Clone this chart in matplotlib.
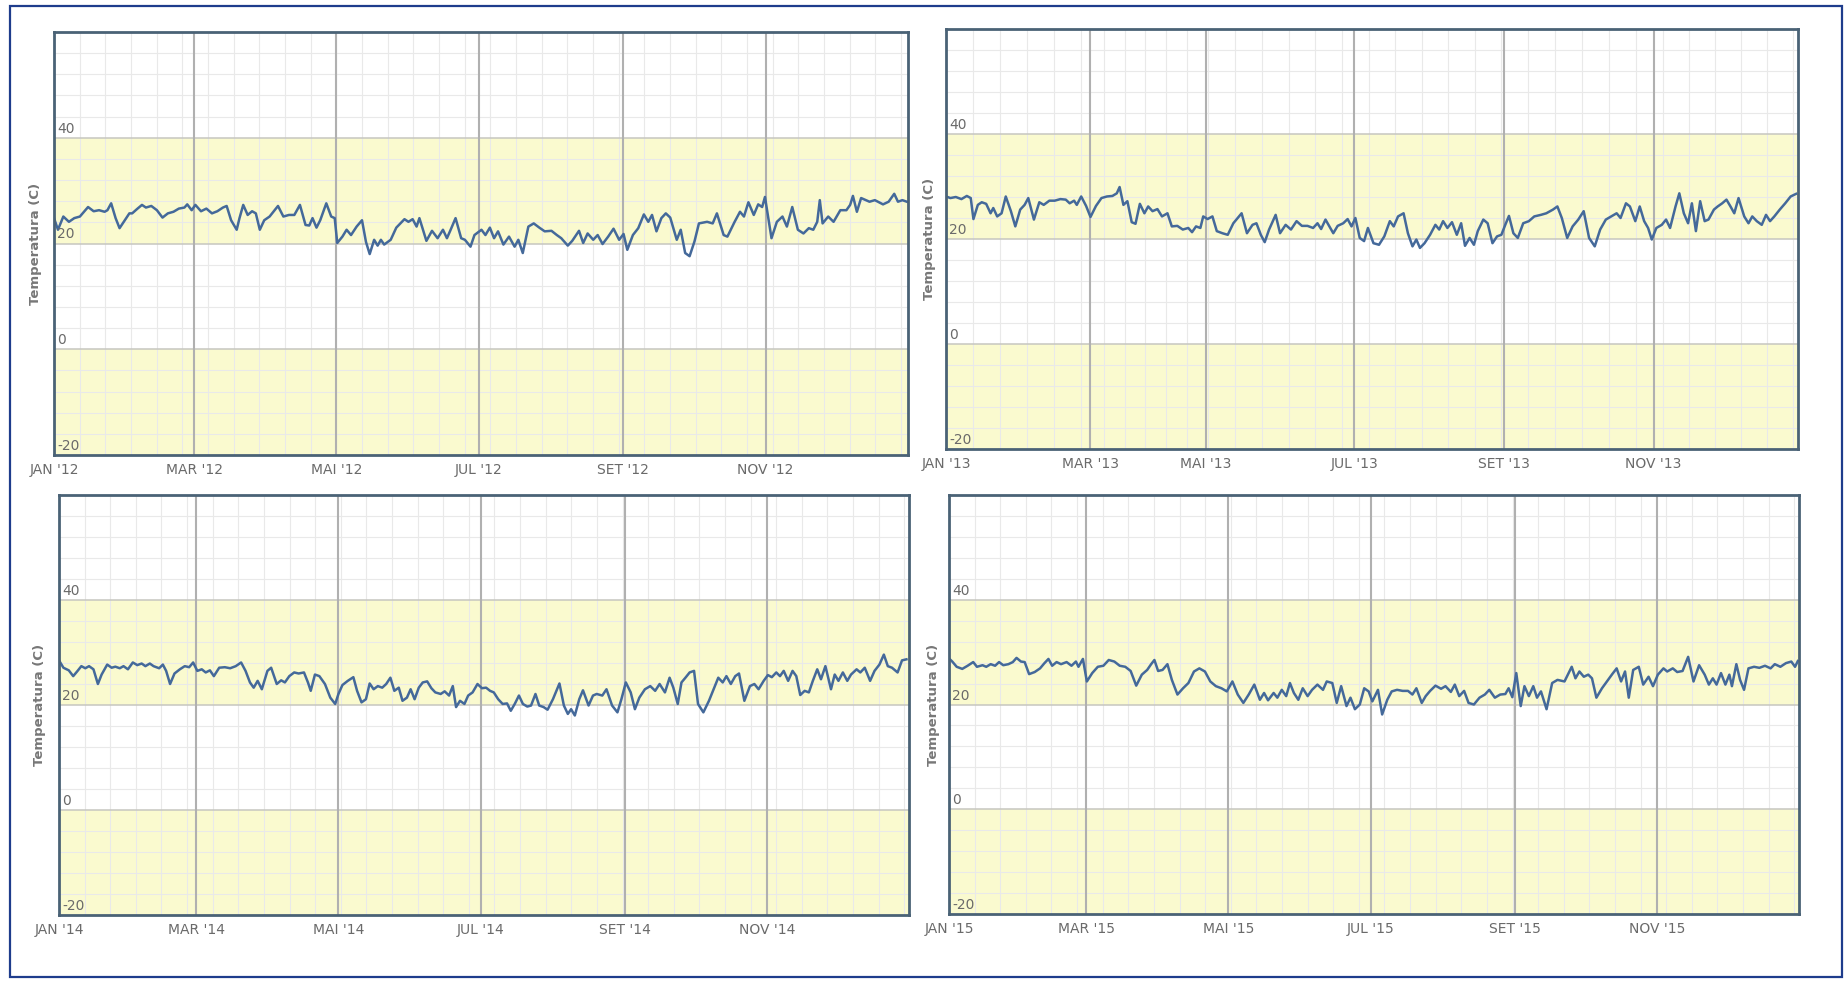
import numpy as np
import matplotlib
matplotlib.use("Agg")
import matplotlib.pyplot as plt
from matplotlib.patches import Rectangle

# ---------------- data ----------------
years = [2012, 2013, 2014, 2015]
month_labels = ["JAN", "MAR", "MAI", "JUL", "SET", "NOV"]
y_tick_values = [40, 20, 0, -20]
y_title = "Temperatura (C)"

days_2012 = [0, 1.7, 4.0, 6.4, 8.7, 11.1, 13.4, 14.6, 17.0, 19.3,
             21.7, 22.9, 24.5, 26.4, 28.1, 29.9, 32.3, 33.5, 35.8, 37.7,
             39.4, 41.7, 44.1, 46.5, 48.8, 51.2, 53.5, 55.9, 57.1, 59.0,
             60.6, 63.0, 65.3, 67.7, 70.0, 72.4, 74.0, 75.9, 78.3, 79.5,
             81.1, 83.0, 84.9, 86.5, 88.2, 90.1, 92.4, 96.0, 98.3, 100.7,
             103.0, 105.4, 107.8, 109.4, 110.8, 112.5, 114.1, 116.7, 118.8, 120.3,
             121.4, 123.6, 125.4, 127.3, 129.7, 132.0, 133.7, 135.3, 137.2, 138.7,
             140.1, 141.5, 144.3, 146.7, 147.8, 150.2, 151.9, 153.7, 155.4, 156.6,
             159.6, 162.0, 164.4, 166.7, 168.4, 169.8, 172.1, 174.5, 176.1, 178.5,
             180.2, 183.2, 184.9, 186.8, 188.6, 190.3, 192.6, 195.0, 197.4, 199.0,
             200.9, 203.3, 205.6, 208.0, 210.3, 213.2, 215.5, 217.4, 220.2, 222.1,
             225.0, 226.8, 228.7, 231.1, 233.0, 235.1, 237.5, 239.8, 242.2, 244.1,
             245.7, 248.1, 250.4, 252.8, 254.7, 256.3, 258.2, 260.3, 262.2, 264.1,
             266.9, 268.6, 270.5, 272.4, 274.5, 276.4, 279.9, 282.3, 284.1, 287.0,
             288.6, 291.7, 294.0, 295.7, 297.6, 299.9, 301.8, 303.5, 304.7, 307.5,
             309.8, 312.2, 314.1, 316.4, 318.8, 321.2, 323.5, 325.4, 327.1, 328.2,
             329.4, 331.8, 334.1, 337.0, 339.6, 341.2, 342.4, 344.1, 345.9, 349.5,
             351.8, 355.3, 357.7, 360.1, 361.7, 363.6, 365.5]
temps_2012 = [24.8, 22.6, 25.1, 24.1, 24.8, 25.1, 26.3, 26.9, 26.1, 26.3,
              26.0, 26.3, 27.6, 24.8, 22.9, 24.1, 25.7, 25.7, 26.6, 27.3,
              26.8, 27.1, 26.3, 24.9, 25.7, 26.0, 26.6, 26.8, 27.4, 26.3,
              27.3, 26.1, 26.6, 25.7, 26.1, 26.8, 27.1, 24.4, 22.6, 24.8,
              27.3, 25.4, 26.1, 25.7, 22.6, 24.4, 25.1, 27.1, 25.1, 25.4,
              25.4, 27.3, 23.5, 23.4, 24.8, 23.0, 24.4, 27.6, 25.1, 24.8,
              20.1, 21.3, 22.6, 21.6, 23.2, 24.4, 20.3, 18.0, 20.7, 19.6,
              20.7, 19.8, 20.7, 23.0, 23.5, 24.6, 24.1, 24.6, 23.2, 24.8,
              20.5, 22.4, 21.0, 22.6, 21.0, 22.4, 24.8, 21.0, 20.7, 19.4,
              21.6, 22.6, 21.6, 23.0, 21.0, 22.3, 19.8, 21.3, 19.4, 20.7,
              18.2, 23.2, 23.8, 23.0, 22.3, 22.4, 21.6, 21.0, 19.6, 20.5,
              22.4, 20.1, 21.9, 20.7, 21.6, 19.9, 21.3, 22.8, 20.7, 21.8,
              18.8, 21.6, 22.9, 25.5, 24.1, 25.4, 22.3, 24.8, 25.7, 24.9,
              20.7, 22.6, 18.2, 17.6, 20.4, 23.8, 24.1, 23.8, 25.7, 21.6,
              21.3, 24.1, 26.0, 25.1, 27.8, 25.4, 27.4, 26.9, 28.8, 21.0,
              24.1, 25.1, 23.2, 26.9, 22.6, 21.9, 22.9, 22.6, 24.1, 28.2,
              23.8, 25.1, 24.1, 26.3, 26.3, 27.3, 29.0, 26.0, 28.6, 27.9,
              28.2, 27.4, 27.9, 29.4, 27.9, 28.2, 27.9]

days_2013 = [0, 1.8, 4.0, 6.3, 8.5, 10.1, 11.2, 13.0, 14.6, 16.4,
             18.2, 19.3, 20.9, 22.7, 24.4, 26.5, 28.3, 30.3, 32.1, 33.6,
             35.9, 38.1, 39.9, 42.2, 44.4, 46.7, 48.9, 50.5, 52.3, 53.4,
             55.2, 57.2, 59.0, 61.9, 64.8, 67.7, 70.6, 72.9, 74.4, 76.4,
             78.5, 80.8, 82.8, 85.1, 87.5, 89.5, 91.8, 94.4, 96.8, 99.7,
             102.0, 104.9, 107.8, 110.7, 112.7, 114.8, 117.1, 118.6, 120.7, 122.7,
             124.5, 126.8, 129.0, 131.3, 134.7, 136.9, 139.2, 140.8, 142.6, 144.2,
             146.0, 148.7, 150.5, 152.8, 155.0, 157.3, 159.5, 161.8, 164.1, 165.9,
             167.4, 169.2, 170.8, 172.4, 174.2, 176.5, 178.3, 179.9, 181.5, 183.3,
             185.1, 186.7, 189.0, 191.3, 193.5, 195.8, 197.4, 199.2, 201.5, 203.3,
             205.2, 206.8, 208.3, 210.2, 212.5, 214.7, 216.3, 217.9, 219.7, 221.6,
             223.6, 225.4, 227.0, 228.9, 230.7, 232.3, 234.6, 236.4, 238.4, 240.3,
             242.1, 243.7, 245.2, 247.0, 248.8, 251.0, 253.3, 255.5, 258.2, 260.4,
             263.1, 264.9, 266.7, 268.9, 271.1, 273.4, 275.6, 277.8, 280.1, 282.3,
             284.6, 286.8, 289.0, 290.6, 292.8, 294.4, 296.6, 298.4, 300.2, 301.8,
             303.3, 305.2, 307.5, 309.3, 311.0, 313.3, 314.9, 316.8, 318.6, 320.2,
             321.9, 323.7, 325.6, 327.2, 329.5, 331.1, 333.0, 334.8, 336.5, 338.1,
             339.9, 342.3, 344.1, 345.7, 347.6, 349.7, 351.5, 353.2, 355.0, 357.3,
             359.6, 361.9, 364.2]
temps_2013 = [28.1, 27.8, 28.0, 27.6, 28.2, 27.8, 23.8, 26.5, 27.0, 26.7,
              24.9, 25.9, 24.3, 24.9, 28.1, 25.3, 22.4, 25.6, 26.5, 27.8,
              23.7, 27.0, 26.5, 27.3, 27.3, 27.6, 27.5, 26.8, 27.3, 26.5,
              28.1, 26.3, 24.2, 26.3, 27.8, 28.1, 28.2, 28.7, 29.9, 26.5,
              27.2, 23.2, 22.9, 26.7, 24.9, 26.2, 25.3, 25.7, 24.3, 24.9,
              22.4, 22.5, 21.8, 22.1, 21.3, 22.4, 22.1, 24.3, 23.8, 24.3,
              21.5, 21.1, 20.8, 23.0, 24.9, 21.1, 22.7, 23.0, 20.8, 19.4,
              21.8, 24.6, 21.1, 22.7, 21.8, 23.4, 22.5, 22.5, 22.1, 23.0,
              21.9, 23.7, 22.4, 21.1, 22.5, 23.0, 23.8, 22.4, 24.0, 20.2,
              19.6, 22.1, 19.2, 18.9, 20.5, 23.4, 22.4, 24.3, 24.9, 21.1,
              18.6, 19.9, 18.3, 19.2, 20.8, 22.7, 21.8, 23.4, 22.1, 23.2,
              20.8, 23.0, 18.7, 20.2, 18.9, 21.5, 23.7, 23.0, 19.2, 20.5,
              20.8, 22.7, 24.4, 21.1, 20.2, 23.0, 23.4, 24.3, 24.6, 24.9,
              25.6, 26.2, 24.0, 20.2, 22.4, 23.7, 25.3, 20.2, 18.6, 21.8,
              23.7, 24.3, 24.9, 24.0, 26.8, 26.2, 23.4, 26.2, 23.4, 22.1,
              19.9, 22.1, 22.7, 23.7, 22.1, 26.2, 28.7, 24.9, 23.0, 26.8,
              21.5, 27.2, 23.4, 23.7, 25.6, 26.2, 26.8, 27.5, 26.2, 24.9,
              27.8, 24.3, 23.0, 24.3, 23.4, 22.7, 24.6, 23.4, 24.3, 25.6,
              26.8, 28.1, 28.6]

days_2014 = [0, 1.9, 4.2, 6.1, 7.8, 9.6, 11.3, 12.9, 14.8, 16.7,
             18.3, 20.7, 22.6, 24.2, 26.1, 27.7, 29.6, 31.7, 33.6, 35.5,
             37.1, 39.0, 40.6, 43.0, 44.6, 46.0, 47.7, 49.6, 51.9, 54.0,
             55.9, 57.6, 59.4, 61.3, 63.0, 64.8, 66.5, 68.8, 71.2, 73.5,
             75.9, 78.2, 80.1, 82.0, 83.6, 85.3, 87.1, 89.5, 91.1, 93.5,
             95.4, 97.0, 98.9, 101.0, 102.9, 105.2, 106.9, 108.1, 109.9, 111.8,
             114.2, 116.5, 118.6, 120.0, 121.7, 124.0, 126.4, 128.0, 129.9, 131.8,
             133.4, 135.1, 136.9, 138.8, 140.5, 142.3, 144.0, 145.9, 147.5, 149.4,
             151.0, 152.7, 154.5, 156.2, 158.1, 159.9, 161.6, 163.9, 165.6, 167.5,
             169.1, 170.5, 172.2, 174.1, 175.7, 177.6, 179.7, 181.6, 183.4, 185.1,
             186.7, 188.6, 190.5, 192.4, 194.0, 195.7, 197.5, 199.2, 201.1, 202.7,
             204.6, 206.2, 208.1, 209.8, 212.1, 214.9, 216.8, 218.5, 219.9, 221.5,
             223.4, 225.0, 227.4, 229.3, 230.9, 233.3, 235.1, 237.5, 239.8, 241.5,
             243.4, 245.5, 247.3, 249.2, 251.6, 253.9, 256.0, 257.9, 260.2, 262.2,
             263.8, 265.7, 267.3, 269.0, 270.8, 272.7, 274.4, 276.7, 279.1, 281.4,
             283.1, 285.0, 286.6, 288.5, 290.4, 292.0, 294.3, 296.7, 298.6, 300.4,
             302.6, 304.4, 306.1, 308.0, 309.6, 311.2, 313.1, 315.0, 316.6, 318.3,
             320.2, 322.0, 323.7, 325.6, 327.2, 329.1, 331.5, 333.1, 334.7, 336.6,
             338.5, 340.1, 342.5, 344.1, 346.0, 348.3, 350.2, 352.3, 354.2, 355.9,
             357.7, 360.1, 362.0, 363.9]
temps_2014 = [28.5, 27.1, 26.6, 25.5, 26.4, 27.4, 27.0, 27.4, 26.8, 24.0,
              25.8, 27.7, 27.1, 27.3, 27.0, 27.4, 26.8, 28.1, 27.6, 27.9,
              27.4, 27.9, 27.4, 27.0, 27.7, 26.5, 24.0, 26.0, 26.8, 27.4,
              27.2, 28.1, 26.5, 26.8, 26.2, 26.6, 25.5, 27.1, 27.2, 27.0,
              27.4, 28.1, 26.5, 24.3, 23.3, 24.6, 23.0, 26.5, 27.1, 24.0,
              24.7, 24.3, 25.5, 26.2, 26.0, 26.2, 24.3, 22.7, 25.8, 25.5,
              24.0, 21.4, 20.2, 22.1, 23.8, 24.6, 25.3, 22.7, 20.5, 21.1,
              24.1, 23.0, 23.6, 23.3, 24.0, 25.2, 22.7, 23.3, 20.8, 21.4,
              23.0, 21.1, 23.3, 24.3, 24.5, 23.2, 22.4, 22.1, 22.6, 21.8,
              23.6, 19.6, 20.8, 20.2, 21.8, 22.4, 24.0, 23.2, 23.3, 22.7,
              22.4, 21.1, 20.2, 20.3, 18.9, 20.2, 21.8, 20.2, 19.7, 19.9,
              22.1, 19.9, 19.6, 19.1, 21.1, 24.1, 19.9, 18.3, 19.2, 18.0,
              21.1, 22.8, 19.9, 21.8, 22.1, 21.8, 23.0, 19.9, 18.6, 21.1,
              24.3, 22.4, 19.2, 21.4, 23.0, 23.6, 22.7, 24.0, 22.4, 25.2,
              23.3, 20.2, 24.3, 25.2, 26.2, 26.5, 20.2, 18.6, 20.8, 23.3,
              25.2, 24.3, 25.5, 24.0, 25.5, 26.0, 20.8, 23.6, 24.0, 23.0,
              24.6, 25.7, 25.3, 26.2, 25.5, 26.5, 24.6, 26.5, 25.5, 21.9,
              22.7, 22.4, 24.6, 26.8, 24.9, 27.4, 23.0, 25.8, 24.6, 26.2,
              24.6, 25.8, 26.8, 26.2, 27.1, 24.6, 26.5, 27.7, 29.6, 27.4,
              27.1, 26.2, 28.5, 28.7]

days_2015 = [0, 1.4, 3.3, 5.7, 8.0, 10.4, 12.0, 14.4, 16.0, 17.9,
             19.8, 21.5, 23.3, 25.5, 27.4, 29.0, 30.9, 32.5, 34.4, 36.8,
             39.1, 41.0, 42.7, 44.3, 46.2, 48.1, 50.5, 52.6, 54.5, 55.6,
             57.5, 59.2, 61.5, 63.9, 66.3, 68.6, 71.0, 73.3, 75.7, 78.0,
             80.4, 82.8, 85.1, 86.8, 88.2, 89.8, 91.7, 93.8, 95.7, 98.1,
             100.5, 102.8, 105.2, 107.5, 109.9, 112.2, 114.6, 117.0, 119.3, 121.7,
             124.0, 126.4, 128.7, 131.1, 133.5, 135.3, 137.0, 139.4, 141.0, 142.9,
             144.8, 146.4, 148.1, 150.0, 151.9, 154.0, 155.9, 158.2, 160.6, 162.2,
             164.6, 166.5, 168.4, 170.7, 172.4, 174.3, 176.4, 178.3, 180.2, 181.8,
             184.2, 186.0, 188.2, 190.1, 192.4, 194.8, 197.1, 199.0, 200.7, 203.0,
             204.7, 206.6, 208.9, 211.3, 213.2, 215.5, 217.2, 219.1, 221.2, 223.1,
             225.4, 227.8, 230.1, 232.0, 234.4, 236.7, 238.9, 240.3, 241.9, 243.6,
             245.5, 247.1, 249.0, 250.9, 252.5, 254.2, 256.6, 259.0, 261.3, 264.3,
             267.4, 269.0, 270.7, 272.6, 274.5, 276.1, 278.0, 280.4, 282.5, 284.8,
             286.7, 288.6, 290.3, 291.9, 293.8, 296.2, 298.1, 300.4, 302.3, 304.4,
             306.8, 308.4, 310.8, 312.7, 315.0, 317.4, 319.7, 322.1, 324.5, 326.3,
             328.0, 329.6, 331.5, 333.4, 335.1, 336.2, 338.1, 339.7, 341.4, 343.3,
             345.7, 348.0, 350.4, 352.8, 354.6, 357.0, 359.4, 361.7, 363.3, 364.5]
temps_2015 = [28.8, 28.2, 27.2, 26.8, 27.4, 28.1, 27.2, 27.5, 27.2, 27.7,
              27.4, 28.1, 27.5, 27.7, 28.1, 28.9, 28.2, 28.1, 25.8, 26.2,
              26.9, 27.9, 28.7, 27.4, 28.1, 27.7, 28.1, 27.4, 28.2, 27.2,
              28.7, 24.4, 26.0, 27.2, 27.4, 28.5, 28.2, 27.4, 27.2, 26.4,
              23.6, 25.7, 26.6, 27.7, 28.5, 26.4, 26.6, 27.7, 24.7, 21.9,
              23.1, 24.1, 26.3, 26.9, 26.3, 24.4, 23.5, 23.1, 22.5, 24.4,
              21.9, 20.3, 21.9, 23.8, 20.9, 22.2, 20.8, 22.2, 21.3, 22.8,
              21.6, 24.1, 22.2, 20.9, 23.1, 21.6, 22.8, 23.8, 22.8, 24.4,
              24.1, 20.3, 23.5, 19.7, 21.3, 19.1, 20.0, 23.1, 22.5, 20.6,
              22.8, 18.1, 20.9, 22.5, 22.8, 22.6, 22.6, 21.9, 23.1, 20.3,
              21.6, 22.6, 23.6, 23.0, 23.5, 22.4, 23.8, 21.6, 22.6, 20.3,
              20.0, 21.3, 21.9, 22.8, 21.3, 21.9, 22.0, 23.1, 21.4, 26.0,
              19.7, 23.5, 21.6, 23.5, 21.3, 22.5, 19.1, 24.1, 24.7, 24.4,
              27.2, 25.0, 26.3, 25.3, 25.7, 25.0, 21.3, 23.1, 24.4, 25.8,
              26.9, 24.4, 26.3, 21.3, 26.6, 27.2, 23.8, 25.3, 23.5, 25.7,
              26.9, 26.3, 26.9, 26.2, 26.4, 29.1, 24.4, 27.5, 25.7, 23.8,
              25.0, 23.8, 26.0, 23.8, 25.7, 23.5, 27.7, 24.7, 22.8, 26.9,
              27.2, 27.0, 27.4, 26.9, 27.7, 27.2, 27.9, 28.2, 27.2, 28.3]

series = {2012: (days_2012, temps_2012), 2013: (days_2013, temps_2013),
          2014: (days_2014, temps_2014), 2015: (days_2015, temps_2015)}

# ---------------- layout / style ----------------
W, H = 1847, 981
panel_px = {2012: (54, 32, 908, 455), 2013: (946, 29, 1798, 449),
            2014: (59, 495, 909, 915), 2015: (949, 495, 1799, 914)}
ylabel_x_px = {2012: 35, 2013: 929, 2014: 40, 2015: 934}
# 2013 chart used an ordinal (gap-collapsing) x axis: month gridlines sit at these fractions
ordinal_frac_2013 = [0, 0.1696, 0.3050, 0.4791, 0.6544, 0.8304, 1.0]
MINOR_STEP_DAYS = 11

BAND = "#fafacf"
MINOR = "#e9e9e9"
MAJOR_V = "#b0b0b0"
MAJOR_H = "#c6c6c0"
LINE = "#44699a"
SPINE = "#4a6276"
TXT = "#6a6a6a"

fig = plt.figure(figsize=(W / 100, H / 100), dpi=100)
fig.patch.set_facecolor("white")

# outer navy frame
fig.add_artist(Rectangle((10 / W, 1 - 977 / H), (1842 - 10) / W, (977 - 6) / H,
                         transform=fig.transFigure, fill=False,
                         edgecolor="#1e3c8c", linewidth=1.6))


def make_interp(xp, fp):
    xp = np.asarray(xp, float)
    fp = np.asarray(fp, float)

    def f(v):
        v = np.asarray(v, float)
        out = np.interp(v, xp, fp)
        lo = v < xp[0]
        hi = v > xp[-1]
        s0 = (fp[1] - fp[0]) / (xp[1] - xp[0])
        s1 = (fp[-1] - fp[-2]) / (xp[-1] - xp[-2])
        out = np.where(lo, fp[0] + (v - xp[0]) * s0, out)
        out = np.where(hi, fp[-1] + (v - xp[-1]) * s1, out)
        return out
    return f


for year in years:
    l, t, r, b = panel_px[year]
    ax = fig.add_axes([l / W, 1 - b / H, (r - l) / W, (b - t) / H])
    ax.set_facecolor("white")

    jan1 = np.datetime64(f"{year}-01-01")
    ticks = [int((np.datetime64(f"{year}-{m:02d}-01") - jan1).astype(int))
             for m in (1, 3, 5, 7, 9, 11)]
    ndays = int((np.datetime64(f"{year + 1}-01-01") - jan1).astype(int))
    edges = ticks + [ndays]

    if year == 2013:
        pos = [fr * ndays for fr in ordinal_frac_2013]
        ax.set_xscale("function", functions=(make_interp(edges, pos), make_interp(pos, edges)))

    ax.set_xlim(0, ndays)
    ax.set_ylim(-20, 60)

    ax.axhspan(20, 40, color=BAND, zorder=0, lw=0)
    ax.axhspan(-20, 0, color=BAND, zorder=0, lw=0)

    for v in range(-16, 60, 4):
        if v % 20 != 0:
            ax.axhline(v, color=MINOR, lw=0.8, zorder=1)
    for d in np.arange(MINOR_STEP_DAYS, ndays, MINOR_STEP_DAYS):
        ax.axvline(d, color=MINOR, lw=0.8, zorder=1)
    for v in (0, 20, 40):
        ax.axhline(v, color=MAJOR_H, lw=1.1, zorder=1.5)
    for d in ticks[1:]:
        ax.axvline(d, color=MAJOR_V, lw=1.5, zorder=2)

    days, temps = series[year]
    ax.plot(days, temps, color=LINE, lw=1.8, zorder=3, solid_joinstyle="round")

    ax.set_xticks(ticks)
    ax.set_xticklabels([f"{m} '{year % 100:02d}" for m in month_labels])
    ax.set_yticks([])
    ax.tick_params(axis="x", length=0, pad=6, labelsize=10, labelcolor=TXT)
    ax.minorticks_off()

    for v in y_tick_values:
        ax.annotate(str(v), xy=(0, v), xycoords=ax.get_yaxis_transform(),
                    xytext=(3, 2), textcoords="offset pixels", fontsize=10,
                    color=TXT, ha="left", va="bottom", zorder=4)

    for s in ax.spines.values():
        s.set_color(SPINE)
        s.set_linewidth(2.0)
        s.set_zorder(5)

    fig.text(ylabel_x_px[year] / W, 1 - ((t + b) / 2) / H, y_title, rotation=90,
             ha="center", va="center", fontsize=9.5, fontweight="bold", color="#777777")

fig.savefig("out.png", dpi=100, facecolor="white")
